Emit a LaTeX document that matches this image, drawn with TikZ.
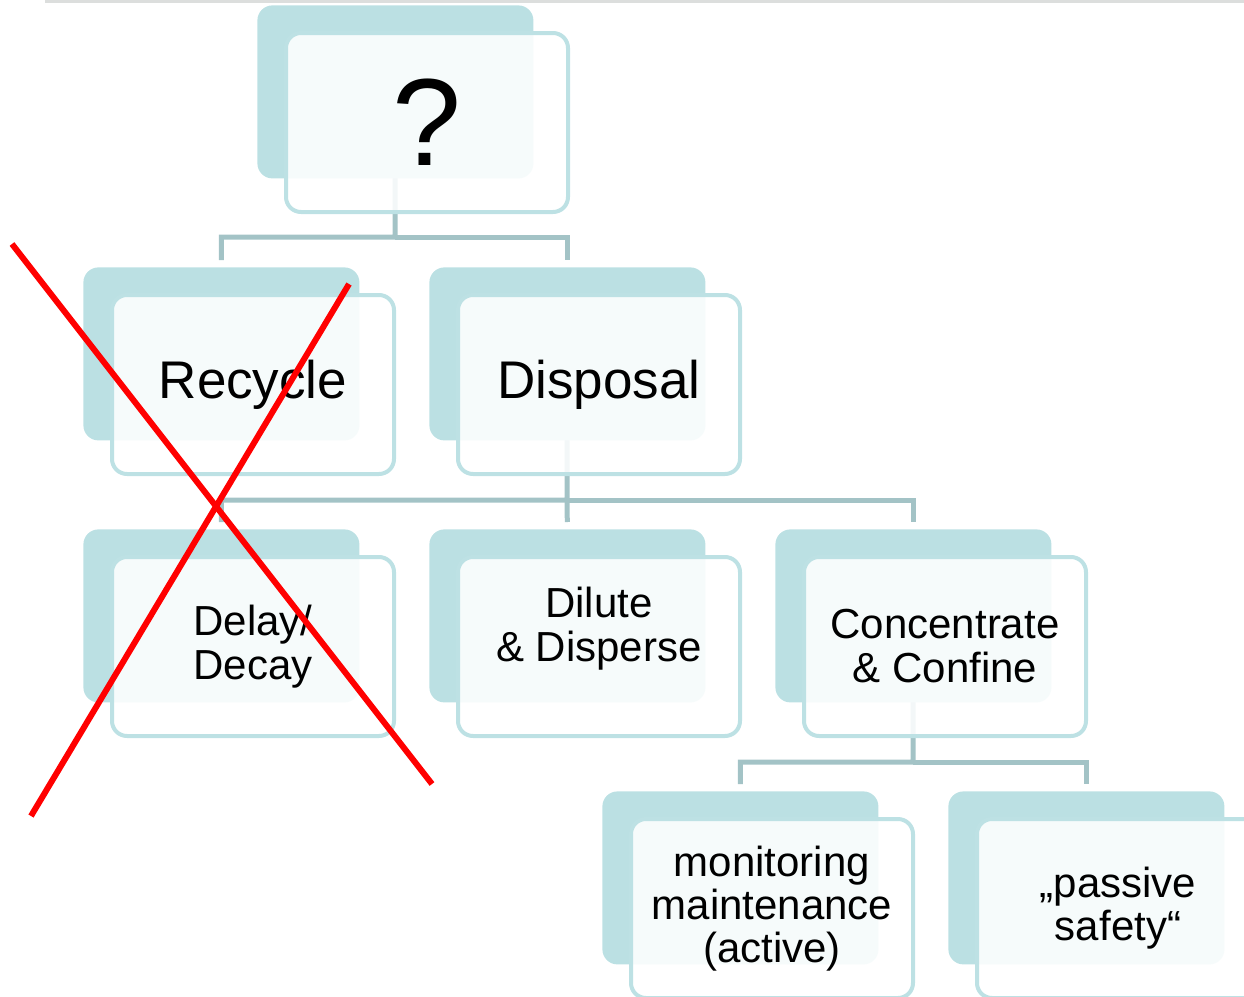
\documentclass[tikz,border=0pt]{standalone}
\usepackage{fontspec}
\setmainfont{Liberation Sans}
\usetikzlibrary{positioning}
\pgfdeclarelayer{bg}
\pgfsetlayers{bg,main}
\definecolor{boxteal}{HTML}{BBE0E3}
\definecolor{edgeteal}{HTML}{BDE1E4}
\definecolor{linkteal}{HTML}{A3C3C6}
\definecolor{rulegray}{HTML}{DCDEDD}
\tikzset{
  backbox/.style={fill=boxteal, rounded corners=7.5pt, inner sep=0pt,
    minimum width=138pt, minimum height=86.5pt, anchor=north west},
  frontbox/.style={draw=edgeteal, line width=2pt, fill=white, fill opacity=0.88,
    text opacity=1, rounded corners=7.5pt, inner sep=0pt, align=center,
    minimum width=141pt, minimum height=89.5pt,
    below right=13pt and 13.5pt of #1.north west},
  branch/.style={draw=linkteal, line width=2.5pt, shorten >=3.5pt},
  strike/.style={draw=red, line width=3pt},
}

\begin{document}
\begin{tikzpicture}[x=0.5pt,y=-0.5pt]
		\useasboundingbox (0,0) rectangle (1244,997);
		\draw[rulegray, line width=1.5pt] (45,1) -- (1244,1);
		% back plates
		\node[backbox] (qback) at (257,5) {};
		\node[backbox] (recycleback) at (83,267) {};
		\node[backbox] (disposalback) at (429,267) {};
		\node[backbox] (delayback) at (83,529) {};
		\node[backbox] (diluteback) at (429,529) {};
		\node[backbox] (concback) at (775,529) {};
		\node[backbox] (monitorback) at (602,791) {};
		\node[backbox] (passiveback) at (948,791) {};
		% front cards
		\node[frontbox=qback, font=\fontsize{62}{68}\selectfont] (q) {?};
		\node[frontbox=recycleback, font=\fontsize{26.5}{29}\selectfont] (recycle) {Recycle};
		\node[frontbox=disposalback, font=\fontsize{26.5}{29}\selectfont] (disposal) {Disposal};
		\node[frontbox=delayback, font=\fontsize{21}{22}\selectfont] (delay) {Delay/\\Decay};
		\node[frontbox=diluteback, font=\fontsize{21}{22}\selectfont] (dilute) {Dilute\\\& Disperse\\\mbox{}};
		\node[frontbox=concback, font=\fontsize{21}{22}\selectfont] (conc) {Concentrate\\\& Confine};
		\node[frontbox=monitorback, font=\fontsize{21}{21.5}\selectfont] (monitor) {monitoring\\maintenance\\(active)};
		\node[frontbox=passiveback, font=\fontsize{21}{21.5}\selectfont] (passive) {„passive\\safety“};
		% tree lines
		\begin{pgfonlayer}{bg}
			\coordinate (j1) at (395,237);
			\coordinate (j2) at (567,500);
			\coordinate (j3) at (913,762);
			\draw[branch] (qback.center) -- (j1) -| (recycleback.north);
			\draw[branch] (j1) -| (disposalback.north);
			\draw[branch] (disposalback.center) -- (j2) -| (delayback.north);
			\draw[branch] (j2) -- (diluteback.north);
			\draw[branch] (j2) -| (concback.north);
			\draw[branch] (concback.center) -- (j3) -| (monitorback.north);
			\draw[branch] (j3) -| (passiveback.north);
		\end{pgfonlayer}
		% crossed out
		\draw[strike] (12,244) -- (432,784);
		\draw[strike] (349,284) -- (31,816);
	\end{tikzpicture}
\end{document}
